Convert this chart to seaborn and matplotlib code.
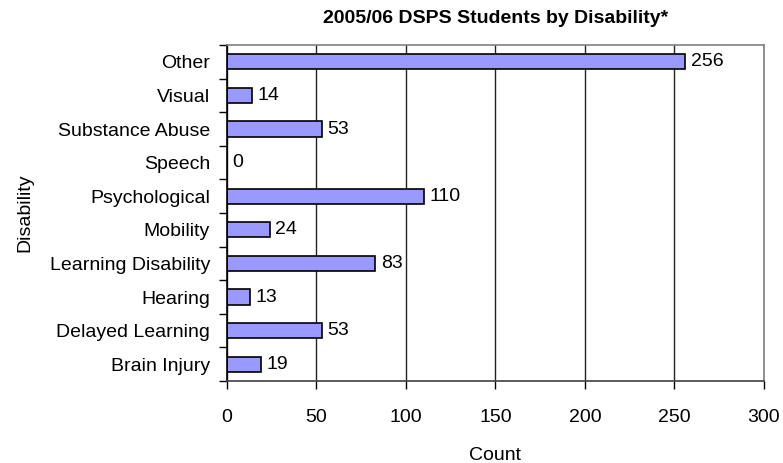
import matplotlib
matplotlib.use("Agg")
import matplotlib.pyplot as plt
import seaborn as sns
import pandas as pd

# chart values, top to bottom as shown
categories = ["Other", "Visual", "Substance Abuse", "Speech", "Psychological",
              "Mobility", "Learning Disability", "Hearing", "Delayed Learning",
              "Brain Injury"]
counts = [256, 14, 53, 0, 110, 24, 83, 13, 53, 19]
x_ticks = [0, 50, 100, 150, 200, 250, 300]

df = pd.DataFrame({"Disability": categories, "Count": counts})

sns.set_style("white")
plt.rcParams['font.family'] = ['Liberation Sans', 'DejaVu Sans']
plt.rcParams['text.color'] = 'black'
plt.rcParams['axes.labelcolor'] = 'black'
plt.rcParams['xtick.color'] = 'black'
plt.rcParams['ytick.color'] = 'black'

fig = plt.figure(figsize=(7.83, 4.63), dpi=100)
ax = fig.add_axes([0.2895, 0.1771, 0.6862, 0.7257])

sns.barplot(data=df, x="Count", y="Disability", order=categories,
            color="#9999FF", edgecolor="black", linewidth=1.2,
            width=0.45, saturation=1, ax=ax)

ax.set_xlim(0, 300)
ax.set_xticks(x_ticks)
ax.set_ylim(len(categories) - 0.5, -0.5)
ax.xaxis.grid(True, color="#222222", linewidth=1)
ax.set_axisbelow(True)

for i, v in enumerate(counts):
    ax.text(v + 3, i, str(v), va="center", ha="left", fontsize=14)

# ticks at category boundaries on the y axis
ax.set_yticks([i for i in range(len(categories))])
ax.set_yticklabels(categories, fontsize=14)
ax.set_yticks([i - 0.5 for i in range(len(categories) + 1)], minor=True)
ax.tick_params(axis="y", which="major", length=0, pad=12)
ax.tick_params(axis="y", which="minor", length=6, width=1, color="black", left=True)
ax.tick_params(axis="x", which="major", length=6, width=1, color="black",
               bottom=True, labelsize=14, pad=14)

for side in ["top", "right"]:
    ax.spines[side].set_color("#808080")
ax.spines["left"].set_color("black")
ax.spines["bottom"].set_color("#404040")
for s in ax.spines.values():
    s.set_linewidth(1.2)

ax.set_title("2005/06 DSPS Students by Disability*", fontsize=14,
             fontweight="bold", pad=16)
ax.set_xlabel("Count", fontsize=14, labelpad=15)
ax.set_ylabel("Disability", fontsize=14)
ax.yaxis.set_label_coords(-0.36, 0.5)

fig.savefig("out.png", dpi=100)
